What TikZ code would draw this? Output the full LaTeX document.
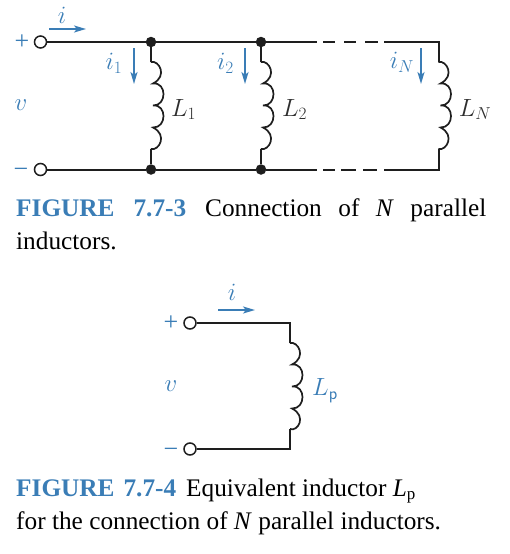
\documentclass[tikz,border=0pt]{standalone}
\usepackage{fontspec}
\setmainfont{Liberation Serif}
\usetikzlibrary{arrows.meta}
\definecolor{figblue}{HTML}{3A7DB6}
\definecolor{wirecol}{HTML}{1E1E1E}
\definecolor{labcol}{HTML}{2E2E2E}
\newcommand{\capfont}{\fontsize{25.3}{32}\selectfont}
\newcommand{\symfont}{\fontsize{25}{28}\selectfont}
\newcommand{\signfont}{\fontsize{26}{28}\selectfont}
\tikzset{
  wire/.style={draw=wirecol,line width=2pt},
  term/.style={circle,draw=wirecol,fill=white,line width=1.5pt,minimum size=12pt,inner sep=0pt},
  junct/.style={circle,fill=wirecol,minimum size=10.5pt,inner sep=0pt},
  curarrow/.style={draw=figblue,line width=1.8pt,-{Stealth[length=12pt,width=7pt,inset=3pt]}},
  bluelab/.style={text=figblue,inner sep=0pt,font=\symfont},
  signlab/.style={text=figblue,inner sep=0pt,font=\signfont},
  darklab/.style={text=labcol,inner sep=0pt,font=\symfont},
  captxt/.style={anchor=base west,inner sep=0pt,font=\capfont,text=black},
  pics/coil/.style={code={
    \coordinate (-top) at (0,0);
    \coordinate (-bot) at (0,#1);
    \draw[wire,line width=1.7pt] (0,0)
      .. controls (8,-2) and (17,14) .. (2,21.5)
      .. controls (16,20) and (16,44) .. (2,43.5)
      .. controls (16,42) and (16,66) .. (2,65.5)
      .. controls (17,73) and (8,89) .. (0,#1);
  }}
}
\begin{document}
\begin{tikzpicture}[x=1pt,y=-1pt]
\useasboundingbox (0,0) rectangle (510,554);
% ---------- Figure 7.7-3
\node[term] (tp) at (40.5,42) {};
\node[term] (tm) at (40.5,169.5) {};
\node[junct] (j1t) at (151,42) {};
\node[junct] (j2t) at (261,42) {};
\node[junct] (j1b) at (151,169.5) {};
\node[junct] (j2b) at (261,169.5) {};
\coordinate (ct) at (438.5,42);
\coordinate (cb) at (438.5,169.5);
\pic (c1) at (151,62) {coil=87};
\pic (c2) at (261,62) {coil=87};
\pic (cn) at (438.5,62) {coil=87};
\coordinate (ts1) at (317,42); \coordinate (ts2) at (384,42);
\coordinate (bs1) at (317,169.5); \coordinate (bs2) at (384,169.5);
\draw[wire] (tp) -- (j1t) -- (j2t) -- (ts1);
\draw[wire] (ts2) -- (ct) -- (cn-top);
\draw[wire] (tm) -- (j1b) -- (j2b) -- (bs1);
\draw[wire] (bs2) -- (cb) -- (cn-bot);
\draw[wire] (j1t) -- (c1-top); \draw[wire] (c1-bot) -- (j1b);
\draw[wire] (j2t) -- (c2-top); \draw[wire] (c2-bot) -- (j2b);
\coordinate (d1a) at (323,42); \coordinate (d1b) at (335,42);
\coordinate (d2a) at (344,42); \coordinate (d2b) at (356,42);
\coordinate (d3a) at (365,42); \coordinate (d3b) at (378,42);
\draw[wire] (d1a) -- (d1b); \draw[wire] (d2a) -- (d2b); \draw[wire] (d3a) -- (d3b);
\coordinate (e1a) at (323,169.5); \coordinate (e1b) at (335,169.5);
\coordinate (e2a) at (341,169.5); \coordinate (e2b) at (356,169.5);
\coordinate (e3a) at (363,169.5); \coordinate (e3b) at (377,169.5);
\draw[wire] (e1a) -- (e1b); \draw[wire] (e2a) -- (e2b); \draw[wire] (e3a) -- (e3b);
% currents
\coordinate (ia) at (49,29); \coordinate (ib) at (86,29);
\draw[curarrow] (ia) -- (ib);
\coordinate (i1a) at (134,48); \coordinate (i1b) at (134,84);
\draw[curarrow] (i1a) -- (i1b);
\coordinate (i2a) at (245,48); \coordinate (i2b) at (245,84);
\draw[curarrow] (i2a) -- (i2b);
\coordinate (ina) at (421,48); \coordinate (inb) at (421,84);
\draw[curarrow] (ina) -- (inb);
% labels
\node[signlab] (lplus) at (22,42) {+};
\node[signlab] (lminus) at (21,172.5) {−};
\node[bluelab] (lv) at (21,105) {$v$};
\node[bluelab] (li) at (62,15) {$i$};
\node[bluelab] (li1) at (114,63.5) {$i_1$};
\node[bluelab] (li2) at (225.5,63.5) {$i_2$};
\node[bluelab] (liN) at (402,62.5) {$i_N$};
\node[darklab] (l1) at (183.5,109.5) {$L_1$};
\node[darklab] (l2) at (294.5,109.5) {$L_2$};
\node[darklab] (lN) at (475,109.5) {$L_N$};
% captions
\node[captxt,text=figblue] (c3a) at (16,216) {\textbf{FIGURE\hspace{19pt}7.7-3}};
\node[captxt] (c3b) at (205,216) {Connection\hspace{16.5pt}of\hspace{16.5pt}\textit{N}\hspace{16.5pt}parallel};
\node[captxt] (c3c) at (16,249.5) {inductors.};
% ---------- Figure 7.7-4
\node[term] (tp2) at (190,323) {};
\node[term] (tm2) at (190,449) {};
\coordinate (ct2) at (290,323);
\coordinate (cb2) at (290,449);
\pic (c3) at (290,343) {coil=86};
\draw[wire] (tp2) -- (ct2) -- (c3-top);
\draw[wire] (tm2) -- (cb2) -- (c3-bot);
\coordinate (i2a2) at (218,310); \coordinate (i2b2) at (255,310);
\draw[curarrow] (i2a2) -- (i2b2);
\node[signlab] (lplus2) at (171,323.5) {+};
\node[signlab] (lminus2) at (171,452.5) {−};
\node[bluelab] (lv2) at (171,386) {$v$};
\node[bluelab] (li2b) at (232,292) {$i$};
\node[bluelab] (lp) at (325,391) {$L_{\mathsf{p}}$};
\node[captxt,text=figblue] (c4a) at (16,496) {\textbf{FIGURE\hspace{9pt}7.7-4}};
\node[captxt] (c4b) at (186,496) {Equivalent inductor \textit{L}\textsubscript{\fontsize{17}{17}\selectfont p}};
\node[captxt] (c4c) at (16,529) {for the connection of \textit{N} parallel inductors.};
\end{tikzpicture}
\end{document}
